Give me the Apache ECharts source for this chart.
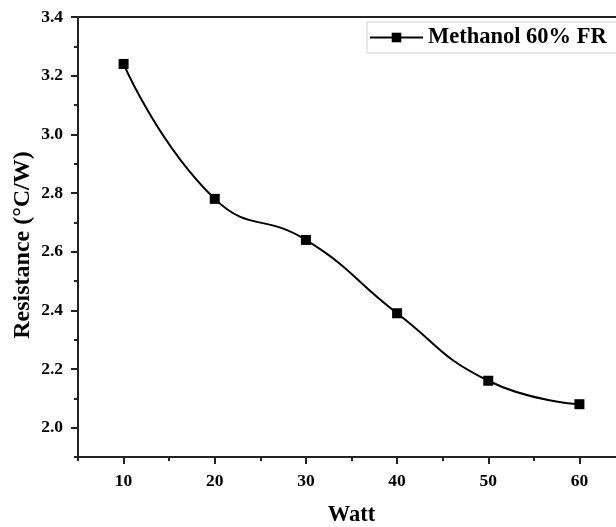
<!DOCTYPE html>
<html>
<head>
<meta charset="utf-8">
<script src="https://cdn.jsdelivr.net/npm/echarts@6/dist/echarts.min.js"></script>
<style>
html,body{margin:0;padding:0;background:#fff;}
#main{width:616px;height:527px;}
</style>
</head>
<body>
<div id="main"></div>
<script>
// Data
var watts = [10, 20, 30, 40, 50, 60];
var resistance = [3.24, 2.78, 2.64, 2.39, 2.16, 2.08];
var seriesName = 'Methanol 60% FR';
var xMajorTicks = [10, 20, 30, 40, 50, 60];
var xMinorTicks = [5, 15, 25, 35, 45, 55, 65];
var yMajorTicks = [2.0, 2.2, 2.4, 2.6, 2.8, 3.0, 3.2, 3.4];
var yMinorTicks = [1.9, 2.1, 2.3, 2.5, 2.7, 2.9, 3.1, 3.3];

var FONT = "'Liberation Serif', 'Times New Roman', serif";
var chart = echarts.init(document.getElementById('main'), null, {renderer: 'canvas'});

var pts = watts.map(function (w, i) { return [w, resistance[i]]; });

var labelStyle = {fontFamily: FONT, fontWeight: 'bold', fontSize: 17.5, color: '#000'};

chart.setOption({
  backgroundColor: '#fff',
  animation: false,
  grid: {left: 78, top: 17, width: 547, height: 440, outerBoundsMode: 'none', containLabel: false,
         show: true, borderColor: '#222', borderWidth: 2, backgroundColor: 'transparent'},
  legend: {
    left: 367, top: 22,
    padding: [4, 30, 4, 2],
    borderColor: '#d0d0d0', borderWidth: 1,
    itemWidth: 53, itemHeight: 12, itemGap: 5,
    textStyle: {fontFamily: FONT, fontWeight: 'bold', fontSize: 22.5, color: '#000'},
    data: [seriesName]
  },
  xAxis: [{
    type: 'value', min: 5, max: 65, position: 'bottom',
    name: 'Watt', nameLocation: 'middle', nameGap: 47, nameMoveOverlap: false,
    nameTextStyle: {fontFamily: FONT, fontWeight: 'bold', fontSize: 22.5, color: '#000'},
    axisLine: {show: true, onZero: false, lineStyle: {color: '#222', width: 2}},
    axisTick: {show: true, customValues: xMajorTicks, length: 7, lineStyle: {color: '#222', width: 2}},
    axisLabel: Object.assign({customValues: xMajorTicks, margin: 15}, labelStyle),
    splitLine: {show: false}
  }, {
    type: 'value', min: 5, max: 65, position: 'bottom',
    axisLine: {show: false, onZero: false},
    axisTick: {show: true, customValues: xMinorTicks, length: 4, lineStyle: {color: '#222', width: 2}},
    axisLabel: {show: false},
    splitLine: {show: false}
  }],
  yAxis: [{
    type: 'value', min: 1.9, max: 3.4, position: 'left',
    name: 'Resistance (°C/W)', nameLocation: 'middle', nameGap: 43, nameMoveOverlap: false,
    nameTextStyle: {fontFamily: FONT, fontWeight: 'bold', fontSize: 24, color: '#000', padding: [0, 16, 0, 0]},
    axisLine: {show: true, onZero: false, lineStyle: {color: '#222', width: 2}},
    axisTick: {show: true, customValues: yMajorTicks, length: 7, lineStyle: {color: '#222', width: 2}},
    axisLabel: Object.assign({customValues: yMajorTicks, margin: 15, formatter: function (v) { return v.toFixed(1); }}, labelStyle),
    splitLine: {show: false}
  }, {
    type: 'value', min: 1.9, max: 3.4, position: 'left',
    axisLine: {show: false, onZero: false},
    axisTick: {show: true, customValues: yMinorTicks, length: 4, lineStyle: {color: '#222', width: 2}},
    axisLabel: {show: false},
    splitLine: {show: false}
  }],
  series: [{
    name: seriesName,
    type: 'line',
    xAxisIndex: 0, yAxisIndex: 0,
    data: pts,
    smooth: 0.5,
    symbol: 'rect',
    symbolSize: 10,
    itemStyle: {color: '#000'},
    lineStyle: {color: '#000', width: 2}
  }]
});
</script>
</body>
</html>
